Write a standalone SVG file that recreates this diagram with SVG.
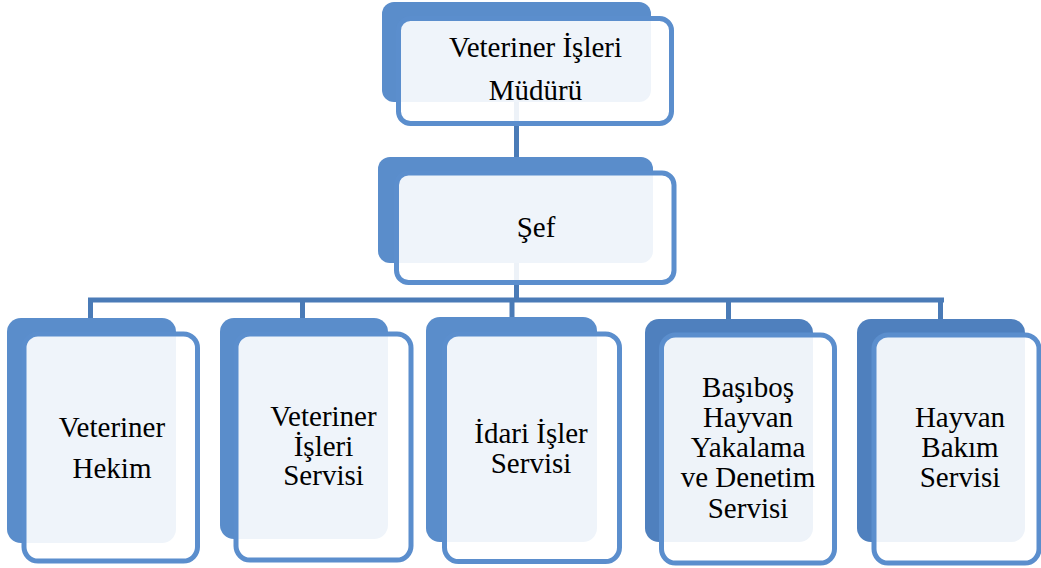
<svg xmlns="http://www.w3.org/2000/svg" width="1041" height="568" viewBox="0 0 1041 568">
  <style>
    .back { fill: #5A8DCB; }
    .back2 { fill: #4F80BE; }
    .front { fill: #FFFFFF; fill-opacity: 0.9; stroke: #5B8ECD; stroke-width: 5; }
    .conn { stroke: #4A7BB7; stroke-width: 5; fill: none; }
    text { font-family: "Liberation Serif", "Times New Roman", serif; font-size: 29px; fill: #000; text-anchor: middle; }
  </style>
  <rect width="1041" height="568" fill="#FFFFFF"/>
  <g id="connectors">
    <line class="conn" x1="516.5" y1="100" x2="516.5" y2="165"/>
    <line class="conn" x1="516.5" y1="255" x2="516.5" y2="300"/>
    <line class="conn" x1="88" y1="300" x2="944" y2="300" stroke-linecap="butt"/>
    <line class="conn" x1="90.5" y1="300" x2="90.5" y2="320"/>
    <line class="conn" x1="302.5" y1="300" x2="302.5" y2="320"/>
    <line class="conn" x1="512" y1="300" x2="512" y2="320"/>
    <line class="conn" x1="728.5" y1="300" x2="728.5" y2="320"/>
    <line class="conn" x1="940.5" y1="300" x2="940.5" y2="320"/>
  </g>
  <g id="node-mudur">
    <rect class="back" x="382" y="2" width="269" height="100" rx="12"/>
    <rect class="front" x="398.5" y="18.5" width="273" height="105" rx="12"/>
    <text x="535.5" y="57">Veteriner İşleri</text>
    <text x="535.5" y="100">Müdürü</text>
  </g>
  <g id="node-sef">
    <rect class="back" x="378" y="157" width="275" height="106" rx="12"/>
    <rect class="front" x="396.5" y="173" width="277.5" height="109.5" rx="12"/>
    <text x="536" y="237">Şef</text>
  </g>
  <g id="node-hekim">
    <rect class="back" x="7" y="318" width="169" height="225" rx="14"/>
    <rect class="front" x="24" y="334" width="173.5" height="227" rx="14"/>
    <text x="112" y="437">Veteriner</text>
    <text x="112" y="478">Hekim</text>
  </g>
  <g id="node-veteriner-isleri">
    <rect class="back" x="220" y="318" width="168" height="221" rx="14"/>
    <rect class="front" x="236" y="334" width="175" height="226" rx="14"/>
    <text x="323.5" y="426">Veteriner</text>
    <text x="323.5" y="456">İşleri</text>
    <text x="323.5" y="485">Servisi</text>
  </g>
  <g id="node-idari">
    <rect class="back" x="426" y="317" width="171" height="225" rx="14"/>
    <rect class="front" x="444.5" y="334" width="175" height="227.5" rx="14"/>
    <text x="531" y="443">İdari İşler</text>
    <text x="531" y="473">Servisi</text>
  </g>
  <g id="node-basibos">
    <rect class="back2" x="645" y="319" width="168" height="223" rx="14"/>
    <rect class="front" x="661.5" y="335" width="173" height="228" rx="14"/>
    <text x="748" y="397">Başıboş</text>
    <text x="748" y="427">Hayvan</text>
    <text x="748" y="457">Yakalama</text>
    <text x="748" y="487">ve Denetim</text>
    <text x="748" y="518">Servisi</text>
  </g>
  <g id="node-hayvan-bakim">
    <rect class="back2" x="857" y="319" width="168" height="223" rx="14"/>
    <rect class="front" x="874" y="335" width="165" height="228" rx="14"/>
    <text x="960" y="427">Hayvan</text>
    <text x="960" y="457">Bakım</text>
    <text x="960" y="487">Servisi</text>
  </g>
</svg>
